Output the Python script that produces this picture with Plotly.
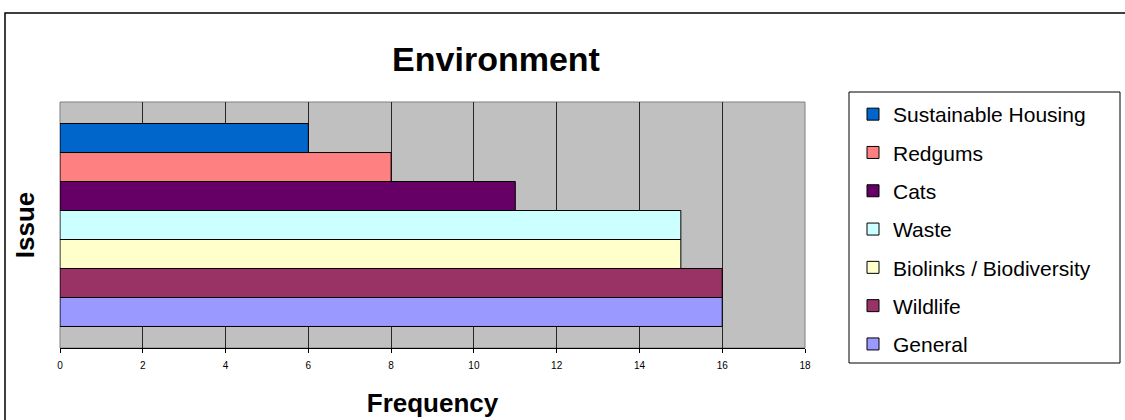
import plotly.graph_objects as go

# Issues listed bottom-to-top as drawn in the grouped bar
issues = ["General", "Wildlife", "Biolinks / Biodiversity", "Waste", "Cats", "Redgums", "Sustainable Housing"]
frequency = [16, 16, 15, 15, 11, 8, 6]
colors = ["#9999FF", "#993366", "#FFFFCC", "#CCFFFF", "#660066", "#FF8080", "#0066CC"]
x_ticks = [0, 2, 4, 6, 8, 10, 12, 14, 16, 18]

FONT = "Liberation Sans, Arial, sans-serif"

W, H = 1125, 420
L, R, T, B = 60, 320, 102, 72
pw, ph = W - L - R, H - T - B


def px_x(p):
    return (p - L) / pw


def px_y(p):
    return 1 - (p - T) / ph


fig = go.Figure()
n = len(issues)
for i, (name, val, col) in enumerate(zip(issues, frequency, colors)):
    fig.add_trace(go.Bar(
        y=[0], x=[val], name=name, orientation="h",
        marker=dict(color=col, line=dict(color="black", width=1)),
        legendgroup=name,
        legendrank=n - i,  # top bar listed first in the legend
    ))

fig.update_layout(
    width=W, height=H,
    margin=dict(l=L, r=R, t=T, b=B, autoexpand=False),
    paper_bgcolor="white",
    plot_bgcolor="#C0C0C0",
    barmode="group",
    bargap=0.175,
    font=dict(family=FONT, color="black"),
    title=dict(
        text="<b>Environment</b>",
        font=dict(family=FONT, size=34, color="black"),
        xref="paper", x=px_x(496), xanchor="center",
        yref="container", y=1 - 59 / H, yanchor="middle",
    ),
    xaxis=dict(
        range=[0, 18], tickvals=x_ticks, ticktext=[str(v) for v in x_ticks],
        showgrid=True, gridcolor="#262626", gridwidth=1,
        zeroline=False,
        showline=True, linecolor="black", linewidth=1,
        ticks="outside", ticklen=4, tickcolor="black",
        tickfont=dict(family=FONT, size=10, color="black"),
        ticklabelstandoff=4,
        title=dict(text="<b>Frequency</b>", font=dict(family=FONT, size=26, color="black"), standoff=23),
        fixedrange=True,
    ),
    yaxis=dict(
        range=[-0.5, 0.5], showticklabels=False, showgrid=False, zeroline=False,
        ticks="",
        title=dict(text="<b>Issue</b>", font=dict(family=FONT, size=26, color="black"), standoff=16),
        fixedrange=True,
    ),
    legend=dict(
        traceorder="grouped",
        tracegroupgap=8,
        maxheight=400,
        font=dict(family=FONT, size=21, color="black"),
        bgcolor="rgba(0,0,0,0)", borderwidth=0,
        x=px_x(853), xanchor="left",
        y=px_y(94), yanchor="top",
    ),
    shapes=[
        # plot-area frame
        dict(type="rect", xref="paper", yref="paper", x0=0, x1=1, y0=0, y1=1,
             line=dict(color="#808080", width=1), layer="below"),
        # legend frame
        dict(type="rect", xref="paper", yref="paper",
             x0=px_x(849), x1=px_x(1120), y0=px_y(363), y1=px_y(92),
             line=dict(color="black", width=1)),
        # outer chart frame
        dict(type="rect", xref="paper", yref="paper",
             x0=px_x(5), x1=px_x(1135), y0=px_y(430), y1=px_y(13),
             line=dict(color="black", width=1.5)),
    ],
)

fig.write_html("out.html")
